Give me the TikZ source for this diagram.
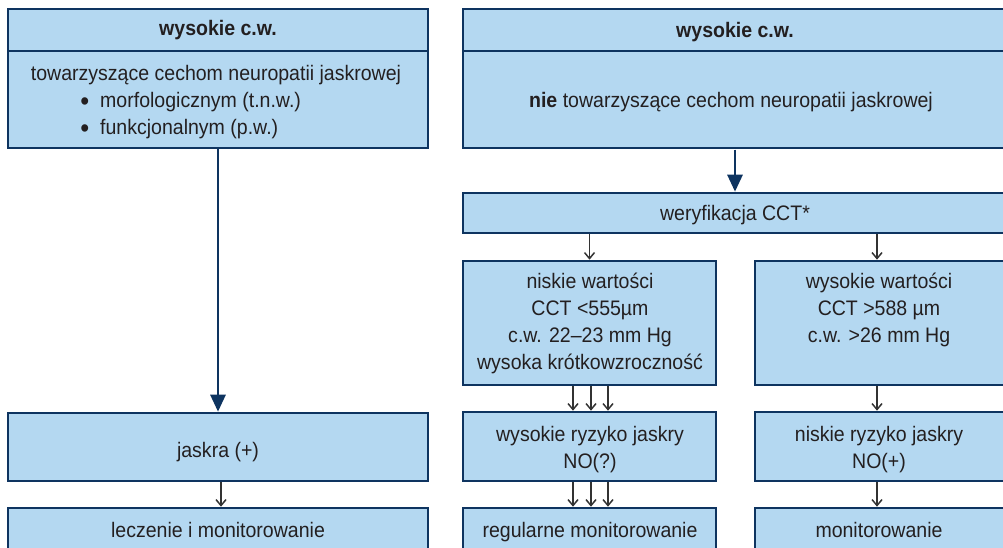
\documentclass[tikz,border=0pt]{standalone}
\usepackage{fontspec}
\setmainfont[FakeStretch=0.93]{Liberation Sans}
\usetikzlibrary{arrows.meta}
\definecolor{boxfill}{HTML}{B4D8F1}
\definecolor{boxline}{HTML}{0E3460}
\definecolor{txt}{HTML}{231F20}
\definecolor{thin}{HTML}{333333}
\tikzset{
  box/.style={draw=boxline, fill=boxfill, line width=2.6pt, inner sep=0pt, align=center, text=txt},
  bigarrow/.style={draw=boxline, line width=2.8pt, -{Triangle[length=17pt,width=15pt]}},
  smallarrow/.style={draw=thin, line width=1.5pt, -{Straight Barb[length=6pt,width=10pt,line width=1.5pt]}},
  lbl/.style={text=txt, inner sep=0pt, anchor=base},
  mlbl/.style={text=txt, inner sep=0pt, align=center},
}
\newcommand\bx[6]{\node[box, minimum width={(#4-#2)*1pt}, minimum height={(#5-#3)*1pt}] (#1) at ({(#2+#4)/2},{(#3+#5)/2}) {#6};}
\newcommand\mybul{\llap{\raisebox{-3pt}{\scalebox{1.3}{\textbullet}}\hspace{11pt}}}
\begin{document}
\begin{tikzpicture}[x=1pt,y=-1pt]
\fontsize{21pt}{27pt}\selectfont
\useasboundingbox (0,0) rectangle (1003,547);
% left column
\bx{lhead}{8}{9}{428}{51}{\textbf{wysokie c.w.}}
\bx{lbody}{8}{51}{428}{148}{}
\node[lbl] (lt1) at (216,80) {towarzyszące cechom neuropatii jaskrowej};
\node[lbl, anchor=base west] (lt2) at (100,107) {\mybul morfologicznym (t.n.w.)};
\node[lbl, anchor=base west] (lt3) at (100,134) {\mybul funkcjonalnym (p.w.)};
\bx{jaskra}{8}{413}{428}{481}{}
\node[lbl] (lt5) at (218,457) {jaskra (+)};
\bx{leczenie}{8}{508}{428}{570}{}
\node[lbl] (lt4) at (218,537) {leczenie i monitorowanie};
% right column
\bx{rhead}{463}{9}{1010}{51}{}
\node[lbl] (rt0) at (735,37) {\textbf{wysokie c.w.}};
\bx{rbody}{463}{51}{1010}{148}{}
\node[lbl] (rt1) at (731,107) {\textbf{nie} towarzyszące cechom neuropatii jaskrowej};
\bx{werf}{463}{193}{1010}{233}{}
\node[lbl] (rt2) at (735,220) {weryfikacja CCT*};
\bx{mleft}{463}{261}{716}{385}{}
\node[mlbl] (rt7) at (590,323) {niskie wartości\\CCT <555µm\\c.w. 22–23 mm Hg\\wysoka krótkowzroczność};
\bx{mright}{755}{261}{1010}{385}{}
\node[mlbl] (rt3) at (879,310) {wysokie wartości\\CCT >588 µm\\c.w. >26 mm Hg};
\bx{rleft}{463}{412}{716}{481}{}
\node[mlbl] (rt8) at (590,450) {wysokie ryzyko jaskry\\NO(?)};
\bx{rright}{755}{412}{1010}{481}{}
\node[mlbl] (rt4) at (879,450) {niskie ryzyko jaskry\\NO(+)};
\bx{bleft}{463}{508}{716}{570}{}
\node[lbl] (rt5) at (590,537) {regularne monitorowanie};
\bx{bright}{755}{508}{1010}{570}{}
\node[lbl] (rt6) at (879,537) {monitorowanie};
% arrows
\draw[bigarrow] (lbody.south) -- (jaskra.north);
\draw[smallarrow] ([xshift=3pt]jaskra.south) -- ([xshift=3pt]leczenie.north);
\coordinate (rs) at (735,149.5);
\draw[bigarrow] (rs) -- (rs |- werf.north);
\draw[smallarrow] (werf.south -| mleft.north) -- (mleft.north);
\coordinate (rx) at (877,0);
\draw[smallarrow] (werf.south -| rx) -- (rx |- mright.north);
\foreach \dx in {-16.5,1.5,18.5}{
  \draw[smallarrow] ([xshift=\dx pt]mleft.south) -- ([xshift=\dx pt]rleft.north);
  \draw[smallarrow] ([xshift=\dx pt]rleft.south) -- ([xshift=\dx pt]bleft.north);
}
\draw[smallarrow] (mright.south -| rx) -- (rx |- rright.north);
\draw[smallarrow] (rright.south -| rx) -- (rx |- bright.north);
\end{tikzpicture}
\end{document}
